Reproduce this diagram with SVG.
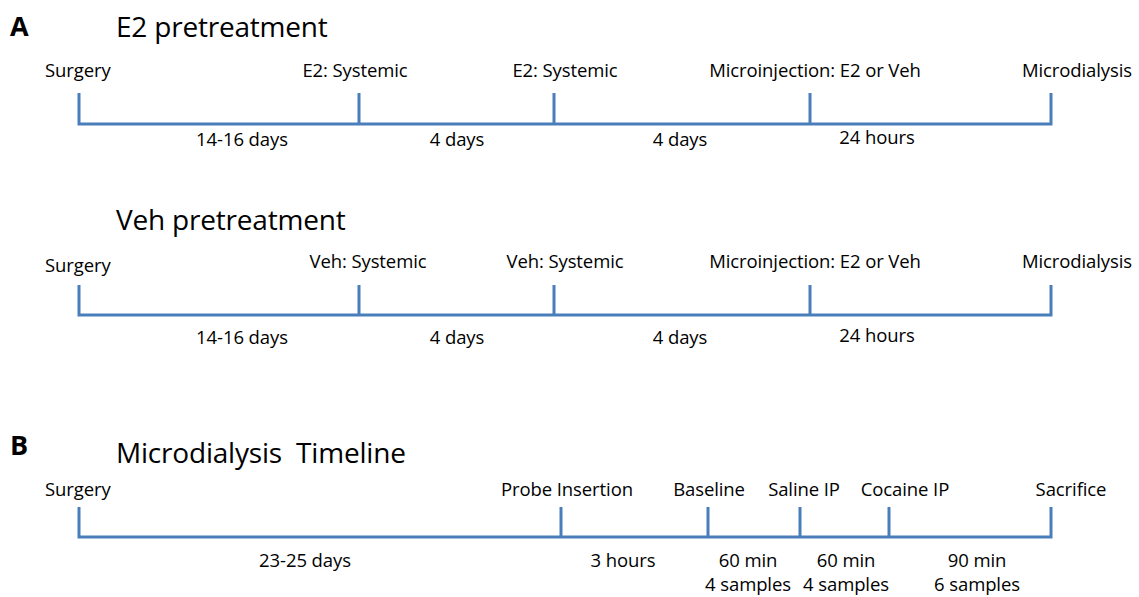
<svg xmlns="http://www.w3.org/2000/svg" width="1139" height="597" viewBox="0 0 1139 597">
<style>
.ln{stroke:#4A7EBB;stroke-width:3;fill:none;stroke-linejoin:miter;stroke-linecap:butt}
text{font-family:"Open Sans","Liberation Sans",sans-serif;fill:#000;white-space:pre}
.lb{font-size:18.5px;letter-spacing:-0.1px}
.c{text-anchor:middle}
.t{font-size:28px;letter-spacing:-0.2px}
.p{font-size:27px;font-weight:bold}
</style>
<rect width="1139" height="597" fill="#fff"/>
<g id="connectors">
<path class="ln" d="M79,93V124H1051V93M359,93V124M554,93V124M810,93V124"/>
<path class="ln" d="M79,285V315H1051V285M359,285V315M554,285V315M810,285V315"/>
<path class="ln" d="M79,507V537H1051V507M561,507V537M708,507V537M800,507V537M889,507V537"/>
</g>
<g id="panelA">
<text class="p" x="10" y="36">A</text>
<text class="t" x="116" y="37">E2 pretreatment</text>
<g id="a1-surgery"><text class="lb" x="45" y="77">Surgery</text></g>
<g id="a1-e2s1"><text class="lb c" x="355" y="77">E2: Systemic</text></g>
<g id="a1-e2s2"><text class="lb c" x="565" y="77">E2: Systemic</text></g>
<g id="a1-micro"><text class="lb c" x="815" y="77">Microinjection: E2 or Veh</text></g>
<g id="a1-dial"><text class="lb c" x="1077" y="77">Microdialysis</text></g>
<text class="lb c" x="242" y="146">14-16 days</text>
<text class="lb c" x="457" y="146">4 days</text>
<text class="lb c" x="680" y="146">4 days</text>
<text class="lb c" x="877" y="144">24 hours</text>
<text class="t" x="116" y="230">Veh pretreatment</text>
<g id="a2-surgery"><text class="lb" x="45" y="272">Surgery</text></g>
<g id="a2-v1"><text class="lb c" x="368" y="268">Veh: Systemic</text></g>
<g id="a2-v2"><text class="lb c" x="565" y="268">Veh: Systemic</text></g>
<g id="a2-micro"><text class="lb c" x="815" y="268">Microinjection: E2 or Veh</text></g>
<g id="a2-dial"><text class="lb c" x="1077" y="268">Microdialysis</text></g>
<text class="lb c" x="242" y="344">14-16 days</text>
<text class="lb c" x="457" y="344">4 days</text>
<text class="lb c" x="680" y="344">4 days</text>
<text class="lb c" x="877" y="342">24 hours</text>
</g>
<g id="panelB">
<text class="p" x="10" y="455">B</text>
<text class="t" x="116" y="463">Microdialysis  Timeline</text>
<g id="b-surgery"><text class="lb" x="45" y="496">Surgery</text></g>
<g id="b-probe"><text class="lb c" x="567" y="496">Probe Insertion</text></g>
<g id="b-base"><text class="lb c" x="709" y="496">Baseline</text></g>
<g id="b-sal"><text class="lb c" x="804" y="496">Saline IP</text></g>
<g id="b-coc"><text class="lb c" x="905" y="496">Cocaine IP</text></g>
<g id="b-sac"><text class="lb c" x="1071" y="496">Sacrifice</text></g>
<text class="lb c" x="305" y="567">23-25 days</text>
<text class="lb c" x="623" y="567">3 hours</text>
<text class="lb c" x="748" y="567">60 min</text>
<text class="lb c" x="748" y="591">4 samples</text>
<text class="lb c" x="846" y="567">60 min</text>
<text class="lb c" x="846" y="591">4 samples</text>
<text class="lb c" x="977" y="567">90 min</text>
<text class="lb c" x="977" y="591">6 samples</text>
</g>
</svg>
